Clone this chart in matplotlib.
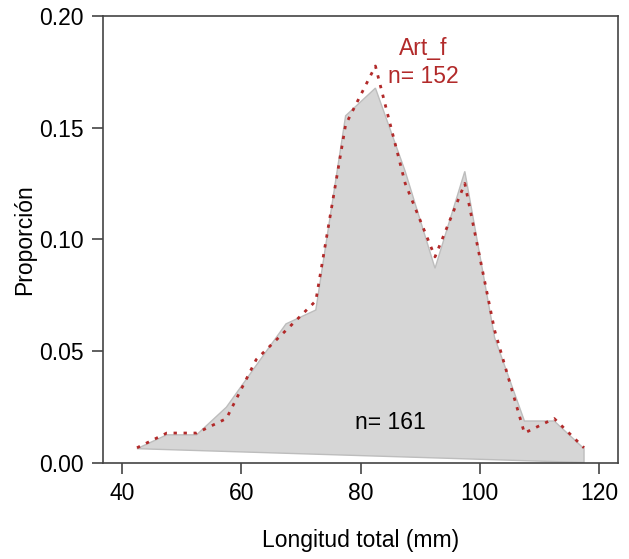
import matplotlib
matplotlib.use("Agg")
from matplotlib import pyplot as plt

plt.rcParams['font.family'] = ['Liberation Sans', 'DejaVu Sans']

# midpoints of 5 mm length classes
longitud = [42.5, 47.5, 52.5, 57.5, 62.5, 67.5, 72.5, 77.5,
            82.5, 87.5, 92.5, 97.5, 102.5, 107.5, 112.5, 117.5]

# all fish (n = 161), gray area
prop_total = [0.0062, 0.0124, 0.0124, 0.0248, 0.0435, 0.0621, 0.0683, 0.1553,
              0.1677, 0.1304, 0.0870, 0.1304, 0.0559, 0.0186, 0.0186, 0.0062]

# Art_f (n = 152), red dotted line
prop_art_f = [0.0066, 0.0132, 0.0132, 0.0197, 0.0461, 0.0592, 0.0724, 0.1513,
              0.1776, 0.1250, 0.0921, 0.1250, 0.0592, 0.0132, 0.0197, 0.0066]

xticks = [40, 60, 80, 100, 120]
yticks = [0.00, 0.05, 0.10, 0.15, 0.20]
ytick_labels = ["0.00", "0.05", "0.10", "0.15", "0.20"]

red = "#b22a2a"
axis_col = "#444444"
fs = 16.5

fig = plt.figure(figsize=(6.29, 5.59), dpi=100)
ax = fig.add_axes([0.1638, 0.1726, 0.8187, 0.7988])

# gray polygon, closed back to the first point like R's polygon()
ax.fill(longitud + [longitud[-1]], prop_total + [0.0],
        facecolor="#d6d6d6", edgecolor="#bdbdbd", linewidth=1.0, zorder=1)

ax.plot(longitud, prop_art_f, color=red, linewidth=2.0,
        dashes=(1.2, 2.4), zorder=2)

ax.text(90.5, 0.1853, "Art_f", color=red, fontsize=fs, ha="center", va="center")
ax.text(90.5, 0.1727, "n= 152", color=red, fontsize=fs, ha="center", va="center")
ax.text(85, 0.0181, "n= 161", color="black", fontsize=fs, ha="center", va="center")

ax.set_xlim(36.8, 123.2)
ax.set_ylim(0, 0.2)
ax.set_xticks(xticks)
ax.set_yticks(yticks)
ax.set_yticklabels(ytick_labels)
ax.tick_params(axis="both", direction="out", length=8, width=1.2,
               color=axis_col, labelsize=fs, pad=6)
for s in ax.spines.values():
    s.set_color(axis_col)
    s.set_linewidth(1.2)

ax.set_xlabel("Longitud total (mm)", fontsize=fs, labelpad=17)
ax.set_ylabel("Proporción", fontsize=fs, labelpad=2)

fig.savefig("out.png", dpi=100)
